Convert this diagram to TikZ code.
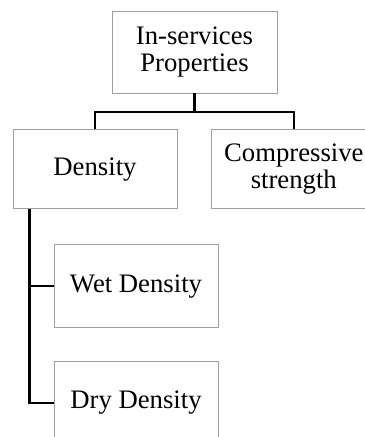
\documentclass[tikz,border=0pt]{standalone}
\usepackage{fontspec}
\setmainfont{Liberation Serif}
\usepackage{tikz}
\usetikzlibrary{positioning, calc}

\tikzset{
  propbox/.style={draw=gray!75, line width=0.8bp, inner sep=0pt, minimum width=164bp, minimum height=80bp, align=center, font=\fontsize{26.8}{27}\selectfont},
  link/.style={draw=black, line width=2.2bp}
}

\begin{document}
\begin{tikzpicture}[x=1bp, y=1bp]
\useasboundingbox (0,0) rectangle (364,-437);

\node[propbox, minimum width=165bp, minimum height=82bp] (props) at (194.5,-52) {In-services\\Properties};

\node[propbox, minimum height=79bp, below=36bp of props, xshift=-99.5bp] (dens) {Density};

\node[propbox, minimum height=79bp, right=34bp of dens] (comp) {Compressive\\strength};

\node[propbox, minimum height=83bp, below=35bp of dens, xshift=41bp] (wet) {Wet Density};

\node[propbox, minimum height=83bp, below=33bp of wet] (dry) {Dry Density};

% tree links
\coordinate (split) at ($(props.south)+(0,-19)$);
\coordinate (stem) at ($(dens.south west)+(17,0)$);

\draw[link] (props.south) -- (split) -| (dens.north);
\draw[link] (split) -| (comp.north);
\draw[link] (stem) |- (wet.west);
\draw[link] (stem) |- (dry.west);

\end{tikzpicture}
\end{document}
